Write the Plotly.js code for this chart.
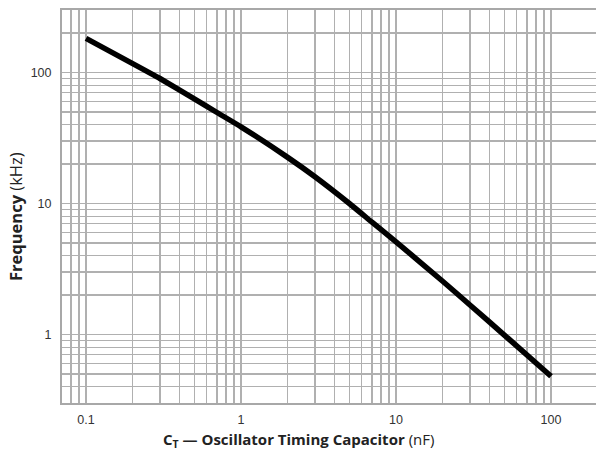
<!DOCTYPE html>
<html>
<head>
<meta charset="utf-8">
<script src="https://cdn.plot.ly/plotly-3.0.1.min.js"></script>
<style>
html,body{margin:0;padding:0;background:#fff;overflow:hidden;}
#chart{width:596px;height:455px;}
</style>
</head>
<body>
<div id="chart"></div>
<script>
// Data
const capacitance_nF = [0.1, 0.2, 0.3, 0.5, 0.7, 1, 2, 3, 5, 7, 10, 20, 30, 50, 100];
const frequency_kHz  = [182, 117, 90, 63, 49.5, 38.5, 22.5, 16, 10.0, 7.2, 5.1, 2.55, 1.68, 0.99, 0.48];

const xTickLabels = ['0.1', '1', '10', '100'];
const yTickLabels = ['1', '10', '100'];

// gridline positions: every 1..9 multiple of each decade, labels only on decades
function logGrid(decades, labels) {
  const vals = [], text = [];
  decades.forEach(d => {
    for (let m = 1; m <= 9; m++) {
      const v = +(m * d).toPrecision(3);
      vals.push(v);
      const lbl = labels.find(l => parseFloat(l) === v && m === 1);
      text.push(lbl !== undefined ? lbl : '');
    }
  });
  return {vals, text};
}
const xg = logGrid([0.01, 0.1, 1, 10, 100], xTickLabels);
const yg = logGrid([0.1, 1, 10, 100], yTickLabels);

const trace = {
  x: capacitance_nF,
  y: frequency_kHz,
  type: 'scatter',
  mode: 'lines',
  line: {color: '#000', width: 5.5, shape: 'spline', smoothing: 0.5},
  hoverinfo: 'skip'
};

const gridColor = '#b0b0b0';
const titleFont = 'Open Sans, DejaVu Sans, sans-serif';
const layout = {
  width: 596, height: 455,
  margin: {l: 62, r: 0, t: 10, b: 52},
  paper_bgcolor: '#fff', plot_bgcolor: '#fff',
  showlegend: false,
  font: {family: 'Liberation Sans, Arial, sans-serif', color: '#333'},
  xaxis: {
    type: 'log',
    range: [Math.log10(0.07), Math.log10(0.07) + 534 / 155],
    tickmode: 'array', tickvals: xg.vals, ticktext: xg.text,
    ticks: '', showgrid: true, gridcolor: gridColor, gridwidth: 1.2,
    showline: true, linecolor: '#a8a8a8', linewidth: 2, mirror: true,
    zeroline: false,
    tickfont: {size: 12.5, color: '#333'},
    ticklabelstandoff: 4
  },
  yaxis: {
    type: 'log',
    range: [Math.log10(0.3), Math.log10(300)],
    tickmode: 'array', tickvals: yg.vals, ticktext: yg.text,
    ticks: '', showgrid: true, gridcolor: gridColor, gridwidth: 1.2,
    showline: true, linecolor: '#a8a8a8', linewidth: 2, mirror: false,
    zeroline: false,
    tickfont: {size: 12.5, color: '#333'},
    ticklabelstandoff: 6
  },
  annotations: [{
    xref: 'paper', yref: 'paper',
    x: (298 - 62) / 534, y: -(440 - 403) / 393,
    xanchor: 'center', yanchor: 'middle',
    showarrow: false,
    text: '<b>C<sub>T</sub> — Oscillator Timing Capacitor</b> (nF)',
    font: {family: titleFont, size: 15, color: '#222'}
  }, {
    xref: 'paper', yref: 'paper',
    x: (15 - 62) / 534, y: (403 - 216) / 393,
    xanchor: 'center', yanchor: 'middle',
    textangle: -90,
    showarrow: false,
    text: '<b>Frequency</b> (kHz)',
    font: {family: titleFont, size: 16.5, color: '#222'}
  }]
};

Plotly.newPlot('chart', [trace], layout, {displayModeBar: false, staticPlot: true});
</script>
</body>
</html>
